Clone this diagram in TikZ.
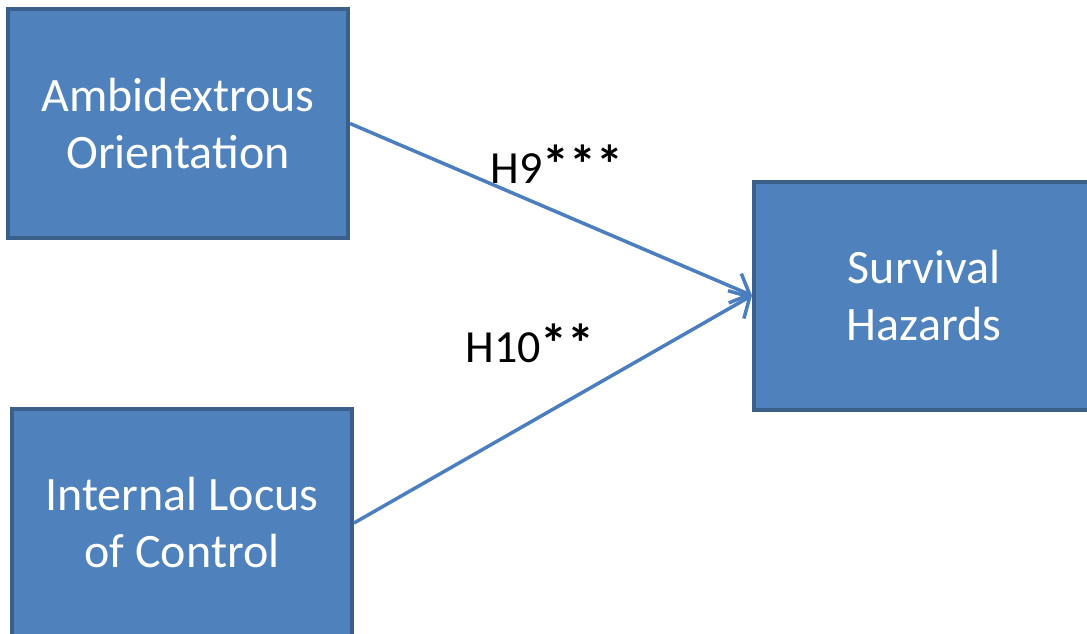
\documentclass[tikz,border=0pt]{standalone}
\usepackage{fontspec}
\setmainfont{Carlito}
\usetikzlibrary{arrows.meta}
\definecolor{boxfill}{RGB}{79,129,189}
\definecolor{boxline}{RGB}{58,95,139}
\definecolor{pathline}{RGB}{74,126,190}
\newcommand{\sig}[1]{{\bfseries\fontsize{54}{54}\selectfont #1}}
\begin{document}
\begin{tikzpicture}[
	x=1pt, y=-1pt,
	factor/.style={
		rectangle,
		draw=boxline,
		line width=4pt,
		fill=boxfill,
		text=white,
		align=center,
		minimum width=340pt,
		minimum height=228pt,
		font=\fontsize{48}{57}\selectfont
	},
	effect/.style={
		draw=pathline,
		line width=3.5pt,
		-{Straight Barb[length=16pt,width=32pt]}
	},
	hyp/.style={
		text=black,
		font=\fontsize{46}{54}\selectfont
	},
]

%% Frame %%
\useasboundingbox (0,0) rectangle (1087,634);
\clip (0,0) rectangle (1087,634);

%% Boxes %%
\node[factor] (amb) at (178,123.5) {Ambidextrous\\Orientation};
\node[factor] (ilc) at (182,523) {Internal Locus\\of Control};
\node[factor] (surv) at (924,295.5) {Survival\\Hazards};

%% Paths %%
\draw[effect] (amb.east) -- (surv.west);
\draw[effect] (ilc.east) -- (surv.west);

% labels %
\node[hyp] (h9) at (557,164) {H9\sig{***}};
\node[hyp] (h10) at (530,343) {H10\sig{**}};

\end{tikzpicture}
\end{document}
